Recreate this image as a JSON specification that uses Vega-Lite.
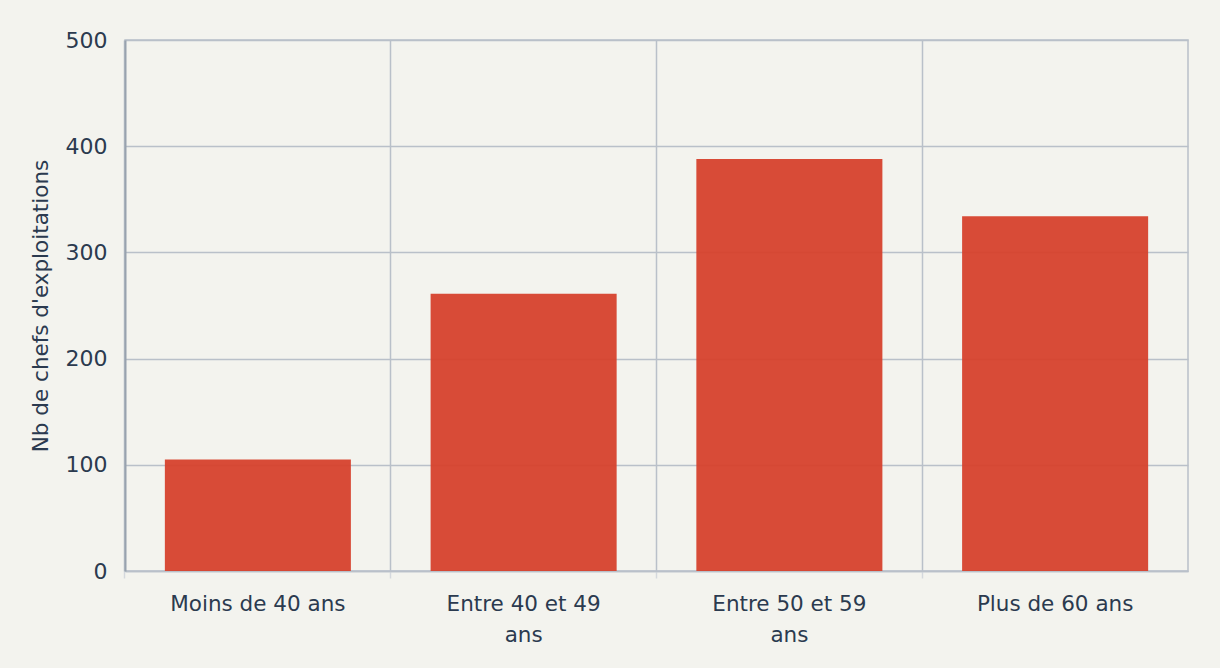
{
  "$schema": "https://vega.github.io/schema/vega-lite/v6.json",
  "autosize": "none",
  "width": 1063,
  "height": 531,
  "padding": {"left": 125, "top": 40, "right": 32, "bottom": 97},
  "background": "#f3f3ee",
  "config": {
    "font": "DejaVu Sans",
    "view": {"stroke": "#b9c0c9", "strokeWidth": 1.5},
    "axis": {
      "labelFont": "DejaVu Sans",
      "titleFont": "DejaVu Sans",
      "labelColor": "#2b3a4f",
      "titleColor": "#2b3a4f",
      "gridColor": "#b9c0c9",
      "gridWidth": 1.5,
      "gridOpacity": 1,
      "domainColor": "#98a2ae",
      "domainWidth": 2
    }
  },
  "data": {
    "values": [
      {"age": "Moins de 40 ans", "n": 105},
      {"age": "Entre 40 et 49 ans", "n": 261},
      {"age": "Entre 50 et 59 ans", "n": 388},
      {"age": "Plus de 60 ans", "n": 334}
    ]
  },
  "mark": {"type": "bar", "color": "#d6412c", "opacity": 0.95},
  "encoding": {
    "x": {
      "field": "age",
      "type": "nominal",
      "sort": null,
      "scale": {"paddingInner": 0.3, "paddingOuter": 0.15},
      "axis": {
        "title": null,
        "labelAngle": 0,
        "labelFontSize": 21.5,
        "labelLineHeight": 31,
        "labelPadding": 15,
        "labelBaseline": "top",
        "grid": true,
        "bandPosition": -0.2143,
        "ticks": true,
        "tickSize": 7,
        "tickColor": "#d4d8dd",
        "tickWidth": 1.5,
        "domainColor": "#b9c0c9",
        "domainWidth": 1.5,
        "labelExpr": "datum.label == 'Entre 40 et 49 ans' ? ['Entre 40 et 49', 'ans'] : datum.label == 'Entre 50 et 59 ans' ? ['Entre 50 et 59', 'ans'] : datum.label"
      }
    },
    "y": {
      "field": "n",
      "type": "quantitative",
      "scale": {"domain": [0, 500]},
      "axis": {
        "title": "Nb de chefs d'exploitations",
        "titleFontSize": 21.5,
        "titleFontWeight": "normal",
        "titlePadding": 13,
        "labelFontSize": 22,
        "labelPadding": 18,
        "ticks": false,
        "tickCount": 5,
        "grid": true
      }
    }
  }
}
